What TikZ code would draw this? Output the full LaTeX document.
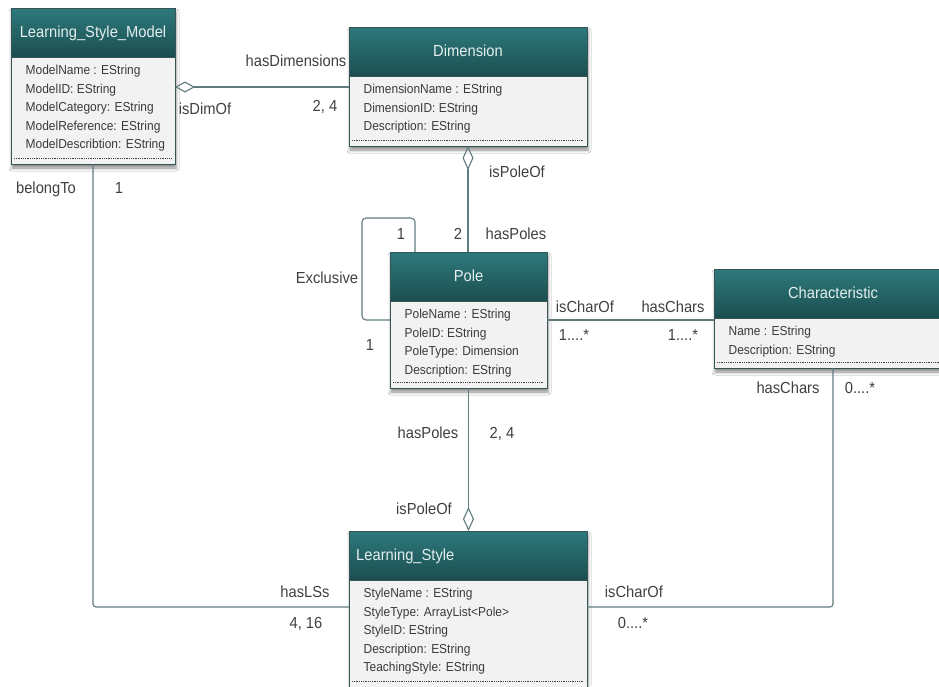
\documentclass[tikz,border=0pt]{standalone}
\usepackage{fontspec}
\setmainfont{Liberation Sans}[FakeStretch=0.92]
\usetikzlibrary{arrows.meta,shadows.blur}

\definecolor{hdtop}{RGB}{46,122,125}
\definecolor{hdbot}{RGB}{27,77,79}
\definecolor{bodyfill}{RGB}{242,242,242}
\definecolor{edge}{RGB}{52,84,86}
\definecolor{wire}{RGB}{96,124,126}
\definecolor{ink}{RGB}{64,64,64}
\definecolor{hdtext}{RGB}{228,238,238}

\tikzset{
  classbody/.style={rectangle, fill=bodyfill, inner sep=0pt, outer sep=0pt,
    blur shadow={shadow xshift=1pt, shadow yshift=-4pt, shadow blur radius=3pt, shadow opacity=45}},
  hdr/.style={top color=hdtop, bottom color=hdbot},
  frame/.style={draw=edge, line width=0.9pt},
  titletext/.style={text=hdtext, font=\fontsize{16}{19}\selectfont, inner sep=0pt,
    text height=11.5pt, text depth=3pt},
  attr/.style={text=ink!90!black, font=\fontsize{13}{15}\selectfont, inner sep=0pt,
    anchor=west, text height=9.5pt, text depth=2.5pt},
  dotline/.style={draw=ink, line width=0.9pt, dash pattern=on 0.9pt off 0.9pt},
  assoc/.style={draw=wire, line width=1.1pt},
  lbl/.style={text=ink, font=\fontsize{16}{19}\selectfont, inner sep=0pt,
    text height=11.5pt, text depth=3pt},
}

% UML class: #1 name, #2 left, #3 top, #4 width, #5 height,
% #6 title alignment (c = centred, l = left), #7 title, #8 attribute lines
\newcommand\umlclass[8]{%
  \node[classbody, minimum width=#4pt, minimum height=#5pt, anchor=north west] (#1) at (#2,#3) {};
  \shade[hdr] (#1.north west) rectangle ([yshift=-49.5pt]#1.north east);
  \draw[frame] ([yshift=-49.5pt]#1.north west) -- ([yshift=-49.5pt]#1.north east);
  \draw[frame] (#1.north west) rectangle (#1.south east);
  \ifx c#6
    \node[titletext] (#1-title) at ([yshift=-24.75pt]#1.north) {#7};
  \else
    \node[titletext, anchor=west] (#1-title) at ([xshift=7pt,yshift=-24.75pt]#1.north west) {#7};
  \fi
  \foreach \txt [count=\k] in {#8}
    \node[attr] (#1-attr\k) at ([xshift=14.5pt, yshift={-63-(\k-1)*18.6}]#1.north west) {\txt};
  \draw[dotline] ([xshift=3pt,yshift=6pt]#1.south west) -- ([xshift=-3pt,yshift=6pt]#1.south east);
}

\begin{document}
\begin{tikzpicture}[x=1pt,y=-1pt]
\useasboundingbox[fill=white] (0,0) rectangle (939,686);

% classes
\umlclass{lsm}{11}{8}{164}{156}{c}{Learning\_Style\_Model}
  {ModelName : EString, ModelID: EString, ModelCategory: EString, ModelReference: EString, ModelDescribtion: EString}
\umlclass{dim}{349}{27}{238}{119}{c}{Dimension}
  {DimensionName : EString, DimensionID: EString, Description: EString}
\umlclass{pole}{390}{252}{157}{136}{c}{Pole}
  {PoleName : EString, PoleID: EString, PoleType: Dimension, Description: EString}
\umlclass{chr}{714}{269}{238}{99}{c}{Characteristic}
  {Name : EString, Description: EString}
\umlclass{ls}{349}{531}{238}{156}{l}{Learning\_Style}
  {StyleName : EString, StyleType: ArrayList<Pole>, StyleID: EString, Description: EString, TeachingStyle: EString}

% associations
\draw[assoc, {Diamond[open,length=20pt,width=11pt]}-] (lsm.east |- 0,87) -- (dim.west |- 0,87);
\draw[assoc, {Diamond[open,length=24pt,width=11pt]}-] (dim.south) -- (dim.south |- pole.north);
\draw[assoc, rounded corners=4pt] ([xshift=25pt]pole.north west)
  |- ([xshift=-28pt,yshift=34pt]pole.north west) |- ([yshift=-68pt]pole.north west);
\draw[assoc] (pole.east |- 0,320) -- (chr.west |- 0,320);
\draw[assoc, -{Diamond[open,length=24pt,width=11pt]}] (pole.south) -- (pole.south |- ls.north);
\draw[assoc, rounded corners=3pt] (chr.south) |- (ls.east |- 0,607);
\draw[assoc, rounded corners=3pt] (lsm.south) |- (ls.west |- 0,607);

% role names and multiplicities
\node[lbl] (l-hasdim)   at (296,62)  {hasDimensions};
\node[lbl] (l-isdimof)  at (205,110) {isDimOf};
\node[lbl] (l-dim24)    at (325,107) {2, 4};
\node[lbl] (l-ispoleof) at (517,173) {isPoleOf};
\node[lbl] (l-two)      at (458,235) {2};
\node[lbl] (l-haspoles) at (516,235) {hasPoles};
\node[lbl] (l-exc1)     at (401,235) {1};
\node[lbl] (l-excl)     at (327,279) {Exclusive};
\node[lbl] (l-exc2)     at (370,346) {1};
\node[lbl] (l-ischar)   at (585,308) {isCharOf};
\node[lbl] (l-haschar)  at (673,308) {hasChars};
\node[lbl] (l-m1)       at (574,336) {1....*};
\node[lbl] (l-m2)       at (683,336) {1....*};
\node[lbl] (l-haschar2) at (788,389) {hasChars};
\node[lbl] (l-m3)       at (860,389) {0....*};
\node[lbl] (l-haspol2)  at (428,434) {hasPoles};
\node[lbl] (l-pol24)    at (502,434) {2, 4};
\node[lbl] (l-ispol2)   at (424,510) {isPoleOf};
\node[lbl] (l-belong)   at (46,189)  {belongTo};
\node[lbl] (l-one)      at (119,189) {1};
\node[lbl] (l-hasls)    at (305,593) {hasLSs};
\node[lbl] (l-ls416)    at (306,624) {4, 16};
\node[lbl] (l-ischar2)  at (634,593) {isCharOf};
\node[lbl] (l-m4)       at (633,624) {0....*};
\end{tikzpicture}
\end{document}
